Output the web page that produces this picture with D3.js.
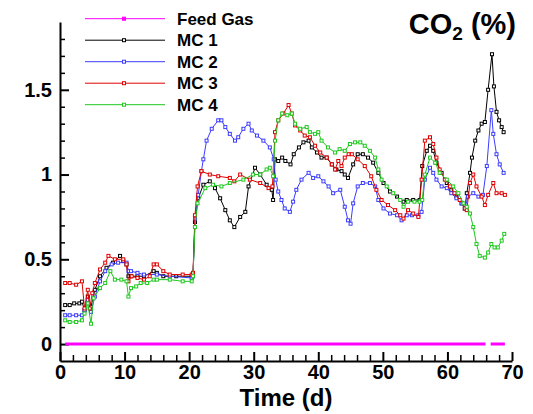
<!DOCTYPE html>
<html>
<head>
<meta charset="utf-8">
<script src="https://cdn.jsdelivr.net/npm/d3@7"></script>
<style>
  body { margin: 0; background: #fff; }
  text { font-family: "Liberation Sans", Arial, sans-serif; font-weight: bold; }
</style>
</head>
<body>
<div class="chart"></div>
<script>
// CO2 (%) over time, four reactors + feed gas
var series = ["Feed Gas", "MC 1", "MC 2", "MC 3", "MC 4"];
var color = ["#ff00ff", "#000000", "#3c3cff", "#e00000", "#1ec81e"];

var yTicks = [0, 0.5, 1, 1.5];
var xTicks = [0, 10, 20, 30, 40, 50, 60, 70];

// [day, CO2 %]
var feed = [[0.8, 0], [65.9, 0], [66.3, null], [66.7, 0], [68.9, 0]];

var mc1 = [[0.8,0.23],[1.5,0.23],[2.2,0.24],[3,0.24],[3.4,0.25],[3.8,0.2],[4.3,0.28],[4.8,0.22],[5.4,0.32],[6.2,0.4],
  [7.2,0.45],[8.2,0.48],[9.3,0.52],[9.8,0.49],[10.3,0.47],[10.6,0.4],[11,0.4],[12,0.4],[13,0.4],[14.5,0.43],[15,0.42],
  [16,0.4],[18,0.4],[20.4,0.4],[20.6,0.41],[20.9,0.72],[21.4,0.86],[22.2,0.94],[23.2,0.96],[24,0.92],[24.8,0.86],
  [25.6,0.79],[26.3,0.73],[27,0.69],[27.9,0.75],[28.7,0.78],[29.2,0.93],[30.2,1.04],[31,1.0],[32,0.94],[32.8,0.91],
  [33,0.85],[33.3,1.09],[33.8,1.08],[34.4,1.1],[34.9,1.08],[35.7,1.06],[36.2,1.12],[37,1.16],[37.7,1.19],[38.5,1.2],
  [39,1.16],[39.8,1.13],[40.5,1.1],[41.3,1.1],[42.1,1.06],[42.8,1.03],[43.6,1.02],[44.1,1.0],[44.6,0.98],[45.4,1.06],
  [46.1,1.12],[46.9,1.12],[47.7,1.1],[48.5,1.07],[49.3,1.01],[50.1,0.95],[51.1,0.9],[52.2,0.87],[53.2,0.84],[53.7,0.85],
  [54.7,0.85],[55.7,0.85],[56.1,1.05],[56.8,1.14],[57.3,1.17],[57.8,1.14],[58.3,1.07],[59.1,1.01],[59.9,0.95],[60.6,0.91],
  [61.4,0.87],[62.2,0.83],[62.7,0.8],[63,0.89],[63.5,1.01],[63.8,1.1],[64.3,1.2],[64.8,1.26],[65.3,1.3],[65.8,1.31],
  [66.3,1.5],[66.9,1.71],[67.2,1.52],[67.6,1.37],[68,1.32],[68.4,1.28],[68.7,1.25]];

var mc2 = [[0.8,0.17],[1.5,0.17],[2.5,0.17],[3.4,0.17],[3.8,0.2],[4.3,0.26],[4.8,0.19],[5.4,0.28],[6.2,0.37],[7,0.43],
  [8,0.47],[9,0.48],[10.3,0.48],[10.6,0.43],[11,0.43],[12,0.42],[13,0.41],[15,0.41],[17,0.4],[20.4,0.39],[20.6,0.4],
  [20.9,0.74],[21.4,0.88],[21.9,1.02],[22.2,1.09],[22.7,1.2],[23.5,1.27],[24.5,1.32],[25,1.32],[25.6,1.28],[26.3,1.24],
  [27.1,1.2],[27.6,1.22],[28.4,1.27],[29.2,1.3],[29.7,1.26],[30.5,1.23],[31.5,1.2],[32.5,1.16],[33.1,1.09],[33.4,0.97],
  [33.8,0.9],[34.3,0.85],[34.8,0.8],[35.6,0.78],[36.1,0.84],[36.6,0.91],[37.4,0.97],[38.5,1.01],[39.2,0.98],[40,0.99],
  [40.8,0.96],[41.6,0.93],[42.3,0.89],[43.4,0.91],[44.1,0.81],[44.6,0.73],[45,0.71],[45.4,0.83],[46.1,0.93],[46.9,0.95],
  [48,0.95],[48.8,0.93],[49.3,0.85],[50.1,0.8],[51.1,0.77],[52.2,0.76],[52.9,0.73],[53.7,0.76],[54.5,0.76],[55.5,0.76],
  [56,0.78],[56.5,0.97],[57.3,1.04],[57.8,1.01],[58.3,0.97],[59.1,0.93],[59.9,0.92],[60.6,0.89],[61.4,0.86],[62.2,0.83],
  [62.7,0.8],[63.2,0.87],[64,0.89],[64.8,0.87],[65.5,0.88],[66.1,1.05],[66.8,1.38],[67.1,1.24],[67.6,1.12],[68.1,1.06],
  [68.7,1.01]];

var mc3 = [[0.8,0.36],[1.5,0.36],[2.5,0.35],[3.4,0.37],[3.8,0.21],[4.3,0.32],[4.6,0.21],[5,0.3],[5.4,0.36],[6.2,0.44],
  [7,0.48],[7.5,0.52],[8.5,0.5],[9.8,0.5],[10.3,0.47],[10.6,0.37],[11.1,0.4],[12,0.39],[13,0.38],[13.9,0.4],[14.5,0.47],
  [15,0.47],[16,0.43],[17,0.41],[19,0.41],[20.4,0.41],[20.6,0.42],[20.9,0.76],[21.3,0.93],[21.9,1.02],[23.2,1.0],
  [24.5,0.99],[26.3,0.98],[27,0.96],[27.9,1.0],[29.4,0.97],[31,0.95],[32.3,0.92],[32.9,0.93],[33.3,1.25],[33.8,1.32],
  [34.6,1.36],[35.4,1.41],[35.9,1.36],[36.4,1.29],[37.2,1.26],[37.9,1.23],[38.7,1.22],[39.5,1.17],[40.3,1.13],[41.3,1.1],
  [42.1,1.06],[42.6,1.03],[43.1,1.08],[43.6,1.05],[44.1,1.1],[44.7,1.12],[45.2,1.12],[46.1,1.09],[47.2,1.05],[48.2,0.99],
  [49,0.91],[49.8,0.85],[50.8,0.82],[51.9,0.79],[52.7,0.76],[53.2,0.74],[53.9,0.79],[54.7,0.77],[55.5,0.75],[56,0.97],
  [56.5,1.2],[57.3,1.22],[57.8,1.18],[58.3,1.1],[58.8,1.03],[59.6,0.97],[60.4,0.93],[61.1,0.89],[61.9,0.85],[62.7,0.8],
  [63,0.79],[63.5,0.95],[64,1.0],[64.5,0.93],[65.3,0.87],[65.8,0.82],[66.3,0.88],[67.1,0.95],[67.6,0.89],[68.4,0.89],
  [68.9,0.88]];

var mc4 = [[0.8,0.14],[1.5,0.13],[2.5,0.13],[3.4,0.14],[3.8,0.18],[4.3,0.24],[4.8,0.12],[5.2,0.27],[6.2,0.33],[7,0.36],
  [7.8,0.43],[8.5,0.38],[9.5,0.38],[10.3,0.37],[10.6,0.28],[11,0.33],[11.8,0.34],[12.5,0.36],[13.5,0.36],[14.5,0.38],
  [15,0.38],[17,0.38],[19,0.37],[20.4,0.37],[20.6,0.4],[20.9,0.69],[21.3,0.83],[22.5,0.92],[23.7,0.94],[25,0.93],
  [26.3,0.95],[28.4,0.97],[29.9,1.0],[31,1.0],[32,1.03],[32.5,1.04],[33,0.99],[33.3,1.2],[33.8,1.32],[34.4,1.36],
  [35.2,1.35],[35.9,1.36],[36.4,1.3],[37.2,1.27],[38.2,1.28],[38.7,1.25],[39.5,1.24],[40,1.25],[40.5,1.2],[41.5,1.16],
  [42.6,1.13],[43.3,1.15],[44.1,1.14],[44.9,1.18],[45.7,1.19],[46.5,1.19],[47.2,1.17],[48,1.14],[48.8,1.1],[49.3,1.03],
  [49.8,0.97],[50.6,0.93],[51.6,0.89],[52.7,0.85],[53.2,0.81],[53.9,0.84],[54.9,0.84],[55.7,0.84],[56.1,0.85],[56.5,1.0],
  [57.3,1.1],[58.1,1.07],[58.8,1.01],[59.9,0.97],[60.9,0.93],[61.7,0.89],[62.5,0.83],[63,0.81],[63.5,0.77],[64,0.69],
  [64.5,0.59],[65,0.52],[65.8,0.51],[66.3,0.54],[66.8,0.59],[67.3,0.57],[67.8,0.57],[68.4,0.61],[68.8,0.65]];

var data = [feed, mc1, mc2, mc3, mc4];

var svg = d3.select(".chart")
  .append("svg")
  .attr("width", 533)
  .attr("height", 414);

var x = d3.scaleLinear().domain([0, 70]).range([60, 512]);
var y = d3.scaleLinear().domain([-0.1, 1.9]).range([361, 22]);

// minor ticks first
svg.append("g")
  .attr("transform", "translate(60,0)")
  .call(d3.axisLeft(y).tickValues(d3.range(1, 19).map(function(d) { return d / 10; }).filter(function(d) { return yTicks.indexOf(d) < 0; }))
    .tickSize(-5).tickSizeOuter(0).tickFormat(""))
  .call(function(g) { g.select(".domain").remove(); })
  .selectAll("line").attr("stroke-width", 1.5);

svg.append("g")
  .attr("transform", "translate(0,361)")
  .call(d3.axisBottom(x).tickValues(d3.range(2, 70, 2).filter(function(d) { return d % 10 != 0; }))
    .tickSize(-6).tickSizeOuter(0).tickFormat(""))
  .call(function(g) { g.select(".domain").remove(); })
  .selectAll("line").attr("stroke-width", 1.5);

// major
var yAxis = svg.append("g")
  .attr("transform", "translate(60,0)")
  .call(d3.axisLeft(y).tickValues(yTicks).tickSize(-9).tickSizeOuter(0).tickPadding(8).tickFormat(d3.format("")));
yAxis.selectAll("text").style("font-size", "20px").attr("fill", "black");
yAxis.selectAll("line").attr("stroke-width", 2);
yAxis.select(".domain").attr("stroke-width", 2);

var xAxis = svg.append("g")
  .attr("transform", "translate(0,361)")
  .call(d3.axisBottom(x).tickValues(xTicks).tickSize(-9).tickSizeOuter(0).tickPadding(4));
xAxis.selectAll("text").style("font-size", "20px").attr("fill", "black");
xAxis.selectAll("line").attr("stroke-width", 2);
xAxis.select(".domain").attr("stroke-width", 2);

svg.append("text")
  .attr("x", 286)
  .attr("y", 406)
  .attr("text-anchor", "middle")
  .style("font-size", "24px")
  .text("Time (d)");

var title = svg.append("text")
  .attr("x", 516)
  .attr("y", 34)
  .attr("text-anchor", "end")
  .style("font-size", "29px");
title.append("tspan").text("CO");
title.append("tspan").attr("dy", 6).style("font-size", "19px").text("2");
title.append("tspan").attr("dy", -6).text(" (%)");

var line = d3.line()
  .defined(function(d) { return d[1] !== null; })
  .x(function(d) { return x(d[0]); })
  .y(function(d) { return y(d[1]); });

for (var i = 0; i < data.length; i++) {
  svg.append("path")
    .attr("d", line(data[i]))
    .attr("fill", "none")
    .attr("stroke", color[i])
    .attr("stroke-width", i == 0 ? 3 : 1);

  if (i > 0) {
    svg.selectAll(".m" + i)
      .data(data[i])
      .enter()
      .append("rect")
      .attr("class", "m" + i)
      .attr("x", function(d) { return x(d[0]) - 1.5; })
      .attr("y", function(d) { return y(d[1]) - 1.5; })
      .attr("width", 3)
      .attr("height", 3)
      .attr("fill", "white")
      .attr("stroke", color[i])
      .attr("stroke-width", 1);
  }
}

// legend
for (var i = 0; i < series.length; i++) {
  var ly = 18.7 + i * 21.5;
  svg.append("line")
    .attr("x1", 85)
    .attr("y1", ly)
    .attr("x2", 165)
    .attr("y2", ly)
    .attr("stroke", color[i])
    .attr("stroke-width", 1);

  svg.append("rect")
    .attr("x", 122.5)
    .attr("y", ly - 1.5)
    .attr("width", 3)
    .attr("height", 3)
    .attr("fill", i == 0 ? color[i] : "white")
    .attr("stroke", color[i]);

  svg.append("text")
    .attr("x", 177)
    .attr("y", ly + 6)
    .style("font-size", "17px")
    .attr("fill", "black")
    .text(series[i]);
}
</script>
</body>
</html>
